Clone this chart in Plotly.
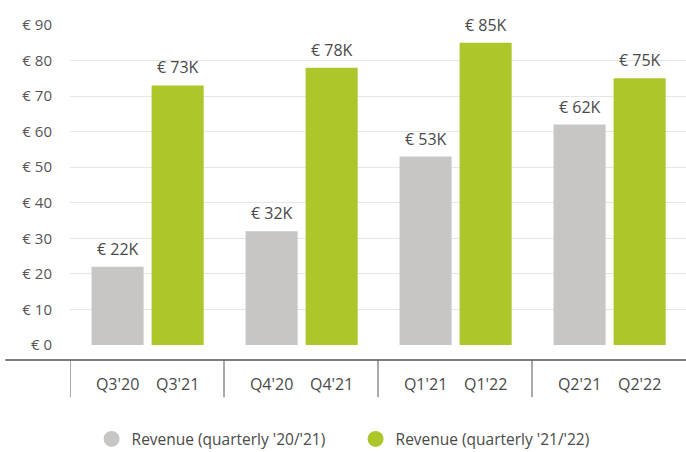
import plotly.graph_objects as go

groups = ["Q3", "Q4", "Q1", "Q2"]
labels_prev = ["Q3'20", "Q4'20", "Q1'21", "Q2'21"]
labels_curr = ["Q3'21", "Q4'21", "Q1'22", "Q2'22"]
rev_prev = [22, 32, 53, 62]
rev_curr = [73, 78, 85, 75]
name_prev = "Revenue (quarterly '20/'21)"
name_curr = "Revenue (quarterly '21/'22)"
yticks = [0, 10, 20, 30, 40, 50, 60, 70, 80, 90]

GRAY = "#c7c6c4"
GREEN = "#adc62a"
TXT = "#4a4a4a"
FONT = "Open Sans"

idx = list(range(len(groups)))
W = 0.338
OFF_P = -0.36
OFF_C = 0.03
xc_prev = [i + OFF_P + W / 2 for i in idx]
xc_curr = [i + OFF_C + W / 2 for i in idx]

fig = go.Figure()
fig.add_trace(go.Bar(x=idx, y=rev_prev, width=W, offset=OFF_P, marker_color=GRAY,
                     marker_line_width=0, showlegend=False, name=name_prev))
fig.add_trace(go.Bar(x=idx, y=rev_curr, width=W, offset=OFF_C, marker_color=GREEN,
                     marker_line_width=0, showlegend=False, name=name_curr))
# legend entries with circle markers
fig.add_trace(go.Scatter(x=[None], y=[None], mode="markers", name=name_prev,
                         marker=dict(symbol="circle", size=17, color=GRAY)))
fig.add_trace(go.Scatter(x=[None], y=[None], mode="markers", name=name_curr,
                         marker=dict(symbol="circle", size=17, color=GREEN)))

for xs, vals in ((xc_prev, rev_prev), (xc_curr, rev_curr)):
    for x, v in zip(xs, vals):
        fig.add_annotation(x=x, y=v, text=f"€ {v}K", showarrow=False, yanchor="bottom",
                           yshift=5, font=dict(family=FONT, size=16, color=TXT))

# x-axis line below plot
fig.add_shape(type="line", xref="paper", yref="paper", x0=-0.105, x1=1, y0=-0.047, y1=-0.047,
              line=dict(color="#555555", width=1.5))
# group separators
for i in idx:
    fig.add_shape(type="line", xref="x", yref="paper", x0=i - 0.5, x1=i - 0.5,
                  y0=-0.047, y1=-0.163, line=dict(color="#555555", width=1))

fig.update_layout(
    width=686, height=452,
    margin=dict(l=70, r=0, t=25, b=107),
    plot_bgcolor="white", paper_bgcolor="white",
    font=dict(family=FONT, size=15, color=TXT),
    showlegend=True,
    legend=dict(orientation="h", x=0.035, xanchor="left", yref="container", y=0.028,
                yanchor="middle", font=dict(family=FONT, size=15.5, color=TXT),
                entrywidth=219, entrywidthmode="pixels"),
    xaxis=dict(range=[-0.5, 3.5], tickvals=xc_prev + xc_curr, ticktext=labels_prev + labels_curr,
               showgrid=False, zeroline=False, showline=False, ticks="",
               ticklabelstandoff=28, tickfont=dict(family=FONT, size=16, color=TXT)),
    yaxis=dict(range=[0, 90], tickvals=yticks, ticktext=[f"€ {v}" for v in yticks],
               showgrid=True, gridcolor="#e6e6e6", gridwidth=1, zeroline=False,
               showline=False, ticks="", ticklabelstandoff=17,
               tickfont=dict(family=FONT, size=15, color="#555555")),
)

fig.write_html("out.html", config={"displayModeBar": False},
               post_script="document.body.style.margin='0px';")
